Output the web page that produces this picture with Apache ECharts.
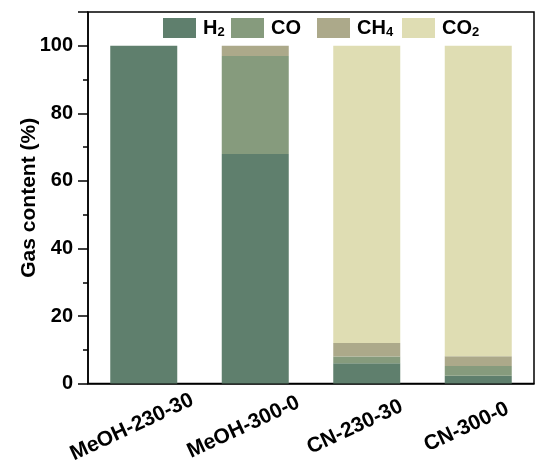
<!DOCTYPE html>
<html><head><meta charset="utf-8">
<script src="https://cdn.jsdelivr.net/npm/echarts@6/dist/echarts.min.js"></script>
<style>html,body{margin:0;padding:0;background:#fff}#c{width:536px;height:466px}</style>
</head><body><div id="c"></div>
<script>
const categories = ['MeOH-230-30', 'MeOH-300-0', 'CN-230-30', 'CN-300-0'];
const seriesNames = ['H2', 'CO', 'CH4', 'CO2'];
const h2 = [100, 68, 6, 2.3];
const co = [0, 29, 2, 2.9];
const ch4 = [0, 3, 4, 2.9];
const co2 = [0, 0, 88, 91.9];
const yTicks = [0, 20, 40, 60, 80, 100];
const colors = ['#5F7F6D', '#869B7D', '#ACA98A', '#DFDDB3'];
const legendLabels = {H2: '{b|H}{s|2}', CO: '{b|CO}', CH4: '{b|CH}{s|4}', CO2: '{b|CO}{s|2}'};
const legendLeft = [163, 231, 317, 402];

const values = [h2, co, ch4, co2];
const font = 'Liberation Sans, Arial, sans-serif';
const rich = {
  b: {fontSize: 20, fontWeight: 'bold', fontFamily: font, color: '#000'},
  s: {fontSize: 13, fontWeight: 'bold', fontFamily: font, color: '#000', padding: [9, 0, 0, 0]}
};
const chart = echarts.init(document.getElementById('c'), null, {renderer: 'canvas'});
chart.setOption({
  animation: false,
  grid: {left: 88, right: 2, top: 12, bottom: 81, show: true, borderColor: '#000', borderWidth: 1.5},
  legend: seriesNames.map((n, i) => ({
    data: [n], left: legendLeft[i], top: 18, itemWidth: 33, itemHeight: 20, itemGap: 0,
    icon: 'rect', padding: 0, selectedMode: false,
    formatter: (name) => legendLabels[name],
    textStyle: {rich: rich, padding: [0, 0, 0, 2]}
  })),
  xAxis: {
    type: 'category', data: categories,
    axisLine: {lineStyle: {color: '#000', width: 1.5}},
    axisTick: {alignWithLabel: true, length: 7, lineStyle: {color: '#000', width: 1.5}},
    axisLabel: {rotate: 25, align: 'center', verticalAlign: 'middle', margin: 38,
      padding: [0, 26, 0, 0], fontSize: 21, fontWeight: 'bold', fontFamily: font, color: '#000'}
  },
  yAxis: {
    type: 'value', min: 0, max: 110, interval: 20,
    name: 'Gas content (%)', nameLocation: 'middle', nameGap: 48, nameMoveOverlap: false,
    nameTextStyle: {fontSize: 21, fontWeight: 'bold', fontFamily: font, color: '#000'},
    axisLine: {show: true, lineStyle: {color: '#000', width: 1.5}},
    axisTick: {show: true, length: 10, lineStyle: {color: '#000', width: 1.5}},
    minorTick: {show: true, splitNumber: 2, length: 5, lineStyle: {color: '#000', width: 1.5}},
    splitLine: {show: false},
    axisLabel: {margin: 15, fontSize: 20, fontWeight: 'bold', fontFamily: font, color: '#000',
      formatter: (v) => yTicks.includes(v) ? String(v) : ''}
  },
  series: seriesNames.map((n, i) => ({
    name: n, type: 'bar', stack: 'total', barWidth: 67, data: values[i],
    itemStyle: {color: colors[i]}
  }))
});
</script></body></html>
